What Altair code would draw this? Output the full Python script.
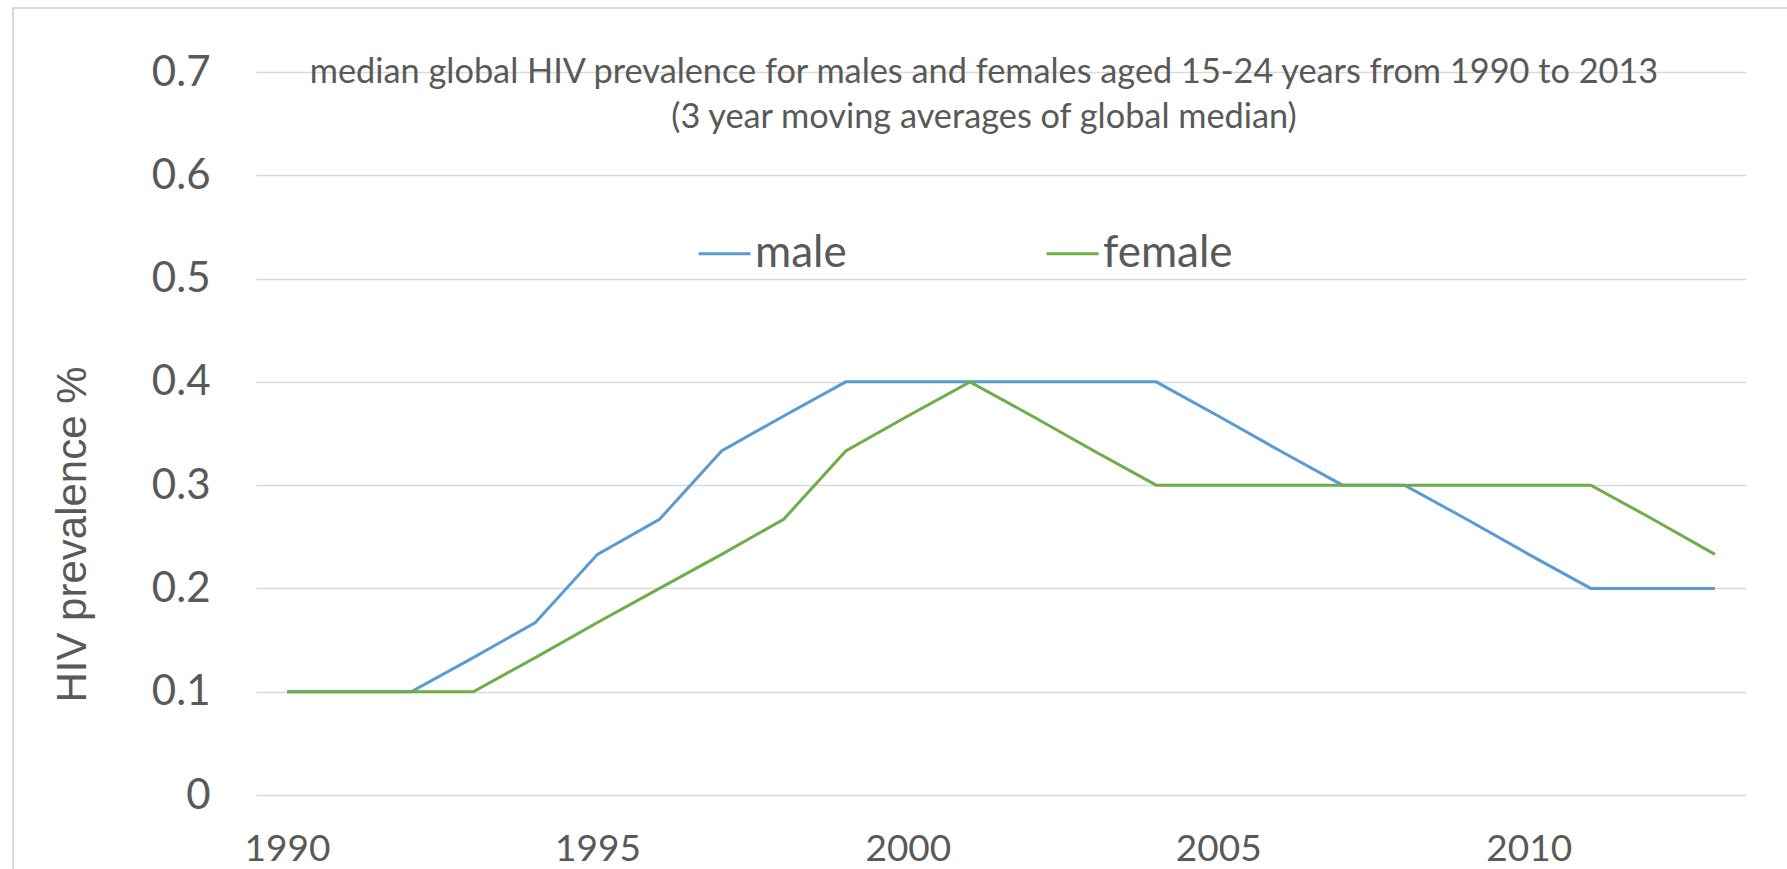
import altair as alt
import pandas as pd

# 3-year moving averages of the global median HIV prevalence (%), ages 15-24
years = [1990, 1991, 1992, 1993, 1994, 1995, 1996, 1997, 1998, 1999, 2000, 2001,
         2002, 2003, 2004, 2005, 2006, 2007, 2008, 2009, 2010, 2011, 2012, 2013]
male = [0.1, 0.1, 0.1, 0.133, 0.167, 0.233, 0.267, 0.333, 0.367, 0.4, 0.4, 0.4,
        0.4, 0.4, 0.4, 0.367, 0.333, 0.3, 0.3, 0.267, 0.233, 0.2, 0.2, 0.2]
female = [0.1, 0.1, 0.1, 0.1, 0.133, 0.167, 0.2, 0.233, 0.267, 0.333, 0.367, 0.4,
          0.367, 0.333, 0.3, 0.3, 0.3, 0.3, 0.3, 0.3, 0.3, 0.3, 0.267, 0.233]

series_names = ["male", "female"]
series_colors = ["#5B9BD5", "#70AD47"]
y_ticks = [0, 0.1, 0.2, 0.3, 0.4, 0.5, 0.6, 0.7]
x_ticks = [1990, 1995, 2000, 2005, 2010]
title_lines = "median global HIV prevalence for males and females aged 15-24 years from 1990 to 2013\n(3 year moving averages of global median)"

male_df = pd.DataFrame({"year": years, "value": male, "sex": "male"})
female_df = pd.DataFrame({"year": years, "value": female, "sex": "female"})

TEXT = "#595959"
GRID = "#D9D9D9"
FONT = "Lato"

x_enc = alt.X(
    "year:Q",
    scale=alt.Scale(domain=[1989.5, 2013.5], nice=False, zero=False),
    axis=alt.Axis(values=x_ticks, format="d", title=None, grid=False, domain=False,
                  ticks=False, labelFont=FONT, labelFontSize=37, labelColor=TEXT,
                  labelPadding=54, labelBaseline="middle"),
)
y_enc = alt.Y(
    "value:Q",
    scale=alt.Scale(domain=[0, 0.7], nice=False, zero=True),
    axis=alt.Axis(values=y_ticks, format="~g", title="HIV prevalence %",
                  grid=True, gridColor=GRID, gridWidth=1.6, domain=False, ticks=False,
                  labelFont=FONT, labelFontSize=42, labelColor=TEXT, labelPadding=46,
                  labelBaseline="middle",
                  titleFont="Liberation Sans", titleFontSize=42, titleFontWeight="normal",
                  titleColor=TEXT, titleAngle=270, titleAlign="center",
                  titleBaseline="alphabetic", titleX=-171, titleY=462),
)
color_enc = alt.Color(
    "sex:N",
    scale=alt.Scale(domain=series_names, range=series_colors),
    legend=alt.Legend(orient="none", legendX=441, legendY=154, direction="horizontal",
                      title=None, symbolType="stroke", symbolSize=2704,
                      symbolStrokeWidth=3, labelFont=FONT, labelFontSize=44,
                      labelColor=TEXT, labelOffset=3, columnPadding=193, padding=0),
)

# light frame around the whole chart area
frame = alt.Chart(pd.DataFrame({"k": [0]})).mark_rect(
    fill="transparent", stroke=GRID, strokeWidth=2
).encode(x=alt.value(-243), x2=alt.value(1600), y=alt.value(-64), y2=alt.value(900))

male_line = alt.Chart(male_df).mark_line(strokeWidth=3).encode(
    x=x_enc, y=y_enc, color=color_enc)
female_line = alt.Chart(female_df).mark_line(strokeWidth=3).encode(
    x=x_enc, y=y_enc, color=color_enc)

title = alt.Chart(pd.DataFrame({"t": [title_lines]})).mark_text(
    font=FONT, fontSize=34.3, color=TEXT, align="center", baseline="alphabetic",
    lineBreak="\n", lineHeight=45.4
).encode(x=alt.value(728), y=alt.value(11), text="t:N")

chart = alt.layer(frame, male_line, female_line, title).properties(
    width=1490, height=723,
    autosize=alt.AutoSizeParams(type="none"),
    padding={"left": 256, "top": 72, "right": 41, "bottom": 74},
    background="white",
).configure_view(stroke=None)

chart.save("out.html", embed_options={"renderer": "svg", "actions": False})
